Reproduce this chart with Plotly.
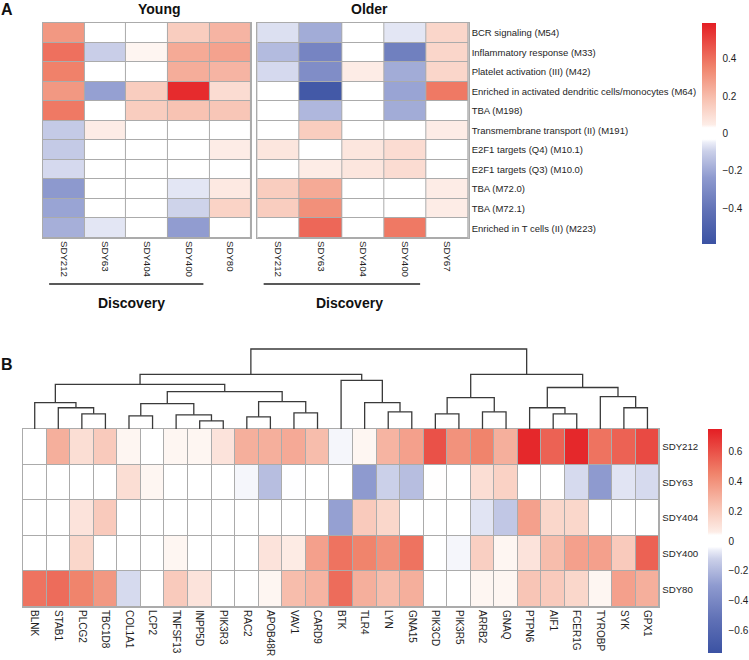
import plotly.graph_objects as go

# ---------------- DATA ----------------
modules = [
    "BCR signaling (M54)",
    "Inflammatory response (M33)",
    "Platelet activation (III) (M42)",
    "Enriched in activated dendritic cells/monocytes (M64)",
    "TBA (M198)",
    "Transmembrane transport (II) (M191)",
    "E2F1 targets (Q4) (M10.1)",
    "E2F1 targets (Q3) (M10.0)",
    "TBA (M72.0)",
    "TBA (M72.1)",
    "Enriched in T cells (II) (M223)",
]
young_cols = ["SDY212", "SDY63", "SDY404", "SDY400", "SDY80"]
older_cols = ["SDY212", "SDY63", "SDY404", "SDY400", "SDY67"]

young_vals = [
    [0.30, -0.03, 0.00, 0.15, 0.22],
    [0.40, -0.10, 0.04, 0.25, 0.27],
    [0.36, -0.03, 0.00, 0.24, 0.22],
    [0.30, -0.22, 0.15, 0.56, 0.10],
    [0.38, 0.00, 0.15, 0.18, 0.17],
    [-0.11, 0.05, 0.00, -0.03, -0.03],
    [-0.11, 0.00, 0.00, -0.03, 0.05],
    [-0.08, 0.00, 0.00, -0.03, 0.00],
    [-0.24, 0.00, -0.03, -0.06, 0.06],
    [-0.21, 0.00, -0.03, -0.09, 0.13],
    [-0.18, -0.06, 0.00, -0.23, -0.03],
]
older_vals = [
    [-0.07, -0.19, 0.00, -0.06, 0.12],
    [-0.15, -0.33, 0.00, -0.35, 0.12],
    [-0.08, -0.29, 0.05, -0.19, 0.12],
    [0.00, -0.55, 0.00, -0.21, 0.38],
    [0.00, -0.16, 0.00, -0.19, 0.00],
    [0.00, 0.15, 0.00, 0.00, 0.05],
    [0.07, 0.00, 0.07, 0.10, 0.00],
    [0.00, 0.05, 0.07, 0.10, 0.00],
    [0.15, 0.25, 0.00, 0.00, 0.05],
    [0.15, 0.32, 0.00, 0.00, 0.05],
    [0.00, 0.42, 0.00, 0.38, 0.00],
]

genes = ["BLNK", "STAB1", "PLCG2", "TBC1D8", "COL1A1", "LCP2", "TNFSF13", "INPP5D",
         "PIK3R3", "RAC2", "APOB48R", "VAV1", "CARD9", "BTK", "TLR4", "LYN", "GNA15",
         "PIK3CD", "PIK3R5", "ARRB2", "GNAQ", "PTPN6", "AIF1", "FCER1G", "TYROBP",
         "SYK", "GPX1"]
b_rows = ["SDY212", "SDY63", "SDY404", "SDY400", "SDY80"]
b_vals = [
    [-0.03, 0.30, 0.12, 0.20, 0.05, 0.00, 0.05, 0.05, 0.10, 0.30, 0.30, 0.32, 0.25, -0.05,
     0.05, 0.28, 0.35, 0.60, 0.40, 0.45, 0.30, 0.72, 0.55, 0.72, 0.50, 0.55, 0.62],
    [0.00, 0.00, 0.00, 0.00, 0.12, 0.05, 0.00, 0.00, 0.00, -0.05, -0.18, -0.04, 0.00, 0.00,
     -0.30, -0.12, -0.18, 0.04, 0.00, 0.12, 0.17, -0.03, -0.03, -0.10, -0.30, -0.08, -0.10],
    [0.00, 0.00, 0.10, 0.20, 0.00, -0.03, -0.03, 0.00, 0.00, 0.00, 0.00, 0.00, 0.00, -0.28,
     0.20, 0.15, 0.00, 0.00, 0.00, -0.08, -0.15, 0.35, 0.15, 0.15, 0.00, 0.00, -0.03],
    [0.00, -0.03, 0.15, 0.00, 0.00, 0.00, 0.05, -0.03, 0.00, 0.00, 0.10, 0.07, 0.35, 0.50,
     0.45, 0.40, 0.50, -0.03, -0.05, 0.18, 0.05, 0.10, 0.25, 0.35, 0.35, 0.20, 0.55],
    [0.50, 0.52, 0.45, 0.38, -0.10, 0.00, 0.20, 0.10, 0.00, 0.00, 0.05, 0.25, 0.28, 0.52,
     0.30, 0.25, 0.30, 0.00, 0.00, 0.05, 0.05, 0.22, 0.20, 0.15, 0.05, 0.35, 0.30],
]

# hierarchical clustering of genes: (child_a, child_b, height); ids < 27 are leaves,
# id 27 + k is the k-th merge
gene_merges = [
    (15, 16, 17), (14, 27, 26), (13, 28, 48),
    (2, 3, 15), (1, 30, 21), (0, 31, 26),
    (4, 5, 13), (7, 8, 8), (6, 34, 14), (33, 35, 25),
    (9, 10, 12), (11, 12, 16), (37, 38, 27), (36, 39, 37),
    (32, 40, 44), (41, 29, 54),
    (17, 18, 15), (19, 20, 17), (43, 44, 31),
    (22, 23, 15), (21, 46, 21), (25, 26, 21), (24, 48, 32), (47, 49, 41),
    (45, 50, 54), (42, 51, 79),
]

# ---------------- STYLE ----------------
W, H = 749, 660
FONT = "Liberation Sans, Arial, sans-serif"
TXT = "#1e1e1e"
GRID = "#ABABAB"


def px(x):
    return x / W


def py(y):
    return 1 - y / H


colorscale = [
    [0.0, "rgb(59,82,163)"],
    [0.15, "rgb(96,113,182)"],
    [0.3, "rgb(142,154,207)"],
    [0.42, "rgb(203,208,233)"],
    [0.46, "rgb(236,238,248)"],
    [0.474, "rgb(255,255,255)"],
    [0.526, "rgb(255,255,255)"],
    [0.54, "rgb(253,237,231)"],
    [0.65, "rgb(248,196,180)"],
    [0.8, "rgb(240,132,108)"],
    [1.0, "rgb(228,30,36)"],
]

fig = go.Figure()
fig.add_trace(go.Heatmap(z=young_vals, x=young_cols, y=modules, coloraxis="coloraxis",
                         xgap=1, ygap=1, xaxis="x", yaxis="y"))
fig.add_trace(go.Heatmap(z=older_vals, x=older_cols, y=modules, coloraxis="coloraxis",
                         xgap=1, ygap=1, xaxis="x2", yaxis="y2"))
fig.add_trace(go.Heatmap(z=b_vals, x=genes, y=b_rows, coloraxis="coloraxis2",
                         xgap=1, ygap=1, xaxis="x3", yaxis="y3"))

# dendrogram
n = len(genes)
pos = {i: (float(i), 0.0) for i in range(n)}
dx, dy = [], []
for k, (a, b, h) in enumerate(gene_merges):
    xa, ha = pos[a]
    xb, hb = pos[b]
    dx += [xa, xa, xb, xb, None]
    dy += [ha, h, h, hb, None]
    pos[n + k] = ((xa + xb) / 2, h)
fig.add_trace(go.Scatter(x=dx, y=dy, mode="lines", line=dict(color="#3a3a3a", width=1.3),
                         xaxis="x4", yaxis="y4", hoverinfo="skip", showlegend=False))

ax_common = dict(showgrid=False, zeroline=False, showline=True, mirror=True,
                 linecolor=GRID, linewidth=1, ticks="")
tickf = dict(family=FONT, size=9.7, color=TXT)

cb_common = dict(thickness=14, lenmode="pixels", xanchor="left", yanchor="top",
                 xpad=0, ypad=0, outlinewidth=0, ticks="outside", ticklen=5,
                 tickcolor="rgba(0,0,0,0)", tickfont=dict(family=FONT, size=10, color=TXT))

fig.update_layout(
    width=W, height=H, margin=dict(l=0, r=0, t=0, b=0),
    paper_bgcolor="white", plot_bgcolor="white",
    font=dict(family=FONT, color=TXT),
    showlegend=False,
    xaxis=dict(domain=[px(43), px(252)], anchor="y", tickangle=90, tickfont=tickf, **ax_common),
    yaxis=dict(domain=[py(238), py(23)], anchor="x", autorange="reversed",
               showticklabels=False, **ax_common),
    xaxis2=dict(domain=[px(258), px(470)], anchor="y2", tickangle=90, tickfont=tickf, **ax_common),
    yaxis2=dict(domain=[py(238), py(23)], anchor="x2", autorange="reversed", side="right",
                tickfont=dict(family=FONT, size=9.5, color=TXT), **ax_common),
    xaxis3=dict(domain=[px(23), px(661)], anchor="y3", tickangle=90,
                tickfont=dict(family=FONT, size=10, color=TXT), **ax_common),
    yaxis3=dict(domain=[py(607), py(429)], anchor="x3", autorange="reversed", side="right",
                tickfont=dict(family=FONT, size=9.7, color=TXT), **ax_common),
    xaxis4=dict(domain=[px(23), px(661)], anchor="y4", range=[-0.5, n - 0.5], visible=False),
    yaxis4=dict(domain=[py(429), py(348)], anchor="x4", range=[0, 80], visible=False),
    coloraxis=dict(colorscale=colorscale, cmin=-0.59, cmax=0.59,
                   colorbar=dict(x=px(704), y=py(23), len=221,
                                 tickvals=[-0.4, -0.2, 0, 0.2, 0.4],
                                 ticktext=["\u22120.4", "\u22120.2", "0", "0.2", "0.4"],
                                 **cb_common)),
    coloraxis2=dict(colorscale=colorscale, cmin=-0.75, cmax=0.75,
                    colorbar=dict(x=px(710), y=py(429), len=224,
                                  tickvals=[-0.6, -0.4, -0.2, 0, 0.2, 0.4, 0.6],
                                  ticktext=["\u22120.6", "\u22120.4", "\u22120.2", "0",
                                            "0.2", "0.4", "0.6"],
                                  **cb_common)),
)

shapes = []
for xr, yr in [("x", "y"), ("x2", "y2"), ("x3", "y3")]:
    shapes.append(dict(type="rect", xref=f"{xr} domain", yref=f"{yr} domain",
                       x0=0, x1=1, y0=0, y1=1, fillcolor=GRID, line=dict(width=0),
                       layer="below"))
for xr in ["x", "x2"]:
    shapes.append(dict(type="line", xref=xr, yref="paper", x0=-0.35, x1=3.35,
                       y0=py(284), y1=py(284), line=dict(color="#222222", width=1.3)))
fig.update_layout(shapes=shapes)

ann = []


def add_text(text, x, y, size, bold=True):
    ann.append(dict(text=f"<b>{text}</b>" if bold else text, x=px(x), y=py(y),
                    xref="paper", yref="paper", showarrow=False, xanchor="center",
                    yanchor="middle", font=dict(family=FONT, size=size, color="#111111")))


add_text("A", 7, 10, 16)
add_text("B", 7, 365, 16)
add_text("Young", 160, 9, 14)
add_text("Older", 370, 9, 14)
add_text("Discovery", 132, 303, 14)
add_text("Discovery", 350, 303, 14)
fig.update_layout(annotations=ann)

fig.write_html("out.html", config={"displayModeBar": False},
               post_script="document.body.style.margin='0';document.body.style.overflow='hidden';")
